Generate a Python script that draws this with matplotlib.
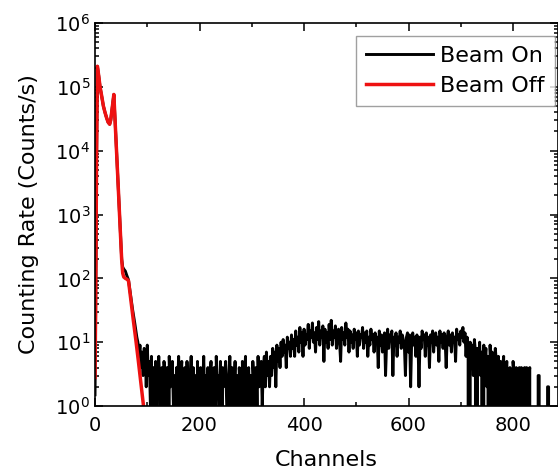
import matplotlib
matplotlib.use("Agg")
import matplotlib.pyplot as plt
from matplotlib.ticker import MultipleLocator, LogLocator, NullFormatter

# ---- data ----
# Beam Off (red) spectrum
ch_off = [0, 1, 2, 3, 4.5, 7, 9.6, 13, 16, 19, 22, 25, 28, 30, 32.5, 34.5, 36,
          40, 44, 48, 51, 53, 55, 58, 61, 64, 68, 73, 78, 83, 88, 92.5, 96]
rate_off = [2.8, 25, 400, 1e4, 2.1e5, 1.5e5, 1e5, 7e4, 5e4, 4e4, 3.3e4, 2.8e4, 2.6e4,
            3e4, 4.4e4, 6e4, 7.6e4, 1.55e4, 3.2e3, 640, 195, 120, 105, 100, 97, 92,
            50, 23, 11, 5, 2.2, 1.05, 0.6]

# Beam On (black) spectrum: low-channel part
ch_on_head = [0, 1, 2, 3, 4.5, 7, 9.6, 13, 16, 19, 22, 25, 28, 30, 32.5, 34.5, 36,
              40, 44, 48, 51, 53, 55, 58, 61, 64, 68, 72, 76, 80, 82, 84, 86, 88, 90, 92, 94]
rate_on_head = [1.5, 20, 300, 8e3, 2.1e5, 1.5e5, 1e5, 7e4, 5e4, 4e4, 3.3e4, 2.8e4, 2.6e4,
                3e4, 4.4e4, 6e4, 7.6e4, 1.55e4, 3.2e3, 640, 200, 150, 140, 130, 110, 95,
                55, 32, 20, 12, 10, 6, 9, 4, 7, 3, 8]

# Beam On (black) spectrum: channels 96..880, every 2 channels (one row = 40 channels)
rate_on_tail = [
    7, 2, 9, 3, 5, 1, 6, 0, 4, 2, 5, 1, 3, 6, 2, 0, 4, 1, 5, 3,
    1, 4, 0, 6, 2, 3, 5, 1, 3, 0, 4, 2, 6, 1, 3, 5, 0, 2, 4, 1,
    5, 2, 0, 3, 6, 1, 4, 2, 3, 0, 5, 1, 3, 4, 0, 2, 6, 1, 3, 2,
    4, 0, 3, 5, 1, 2, 4, 0, 6, 2, 3, 1, 5, 0, 4, 2, 3, 5, 1, 0,
    3, 6, 1, 4, 0, 2, 5, 1, 3, 0, 4, 2, 0, 5, 1, 3, 6, 0, 2, 4,
    1, 3, 0, 5, 2, 0, 4, 1, 6, 2, 3, 5, 1, 4, 6, 2, 7, 3, 5, 2,
    6, 3, 8, 4, 7, 2, 9, 5, 8, 4, 10, 6, 11, 7, 9, 4, 12, 8, 10, 6,
    13, 8, 11, 6, 15, 9, 12, 7, 17, 10, 14, 6, 16, 9, 13, 11, 19, 8, 15, 12,
    20, 10, 14, 7, 17, 11, 21, 9, 15, 12, 18, 5, 16, 10, 14, 8, 19, 11, 22, 9,
    15, 12, 18, 8, 13, 16, 10, 5, 17, 11, 14, 9, 20, 12, 16, 7, 15, 10, 13, 8,
    16, 11, 14, 6, 15, 9, 13, 12, 17, 8, 14, 10, 15, 6, 12, 9, 16, 11, 13, 7,
    14, 10, 12, 4, 15, 9, 13, 7, 11, 14, 3, 10, 16, 8, 13, 11, 15, 3, 12, 9,
    14, 6, 12, 10, 15, 8, 13, 11, 9, 3, 12, 14, 7, 13, 2, 11, 14, 9, 12, 6,
    13, 10, 2, 12, 8, 15, 11, 13, 6, 14, 9, 12, 4, 13, 10, 15, 7, 12, 14, 9,
    12, 5, 15, 10, 13, 8, 14, 11, 4, 12, 15, 9, 13, 7, 14, 10, 12, 5, 16, 11,
    13, 9, 15, 12, 17, 10, 14, 6, 12, 8, 0, 10, 5, 9, 3, 11, 7, 0, 8, 4,
    10, 3, 7, 0, 9, 5, 8, 2, 6, 0, 9, 4, 7, 0, 3, 8, 5, 0, 6, 2,
    5, 0, 4, 6, 0, 3, 5, 1, 0, 4, 2, 0, 5, 3, 0, 4, 0, 2, 4, 0,
    4, 0, 3, 4, 0, 4, 0, 3, 4, 0, 0, 0, 0, 0, 0, 0, 3, 3, 0, 0,
    0, 0, 0, 0, 0, 2, 2, 0, 0, 0, 0, 0, 0,
]
ch_on_tail = list(range(96, 96 + 2 * len(rate_on_tail), 2))

ch_on = ch_on_head + ch_on_tail
rate_on = rate_on_head + rate_on_tail

# ---- plot ----
plt.rcParams['font.family'] = ['DejaVu Sans']
plt.rcParams['mathtext.fontset'] = 'dejavusans'

fig = plt.figure(figsize=(5.58, 4.73), dpi=100)
ax = fig.add_axes([0.1703, 0.1416, 0.8297, 0.8097])

ax.plot(ch_on, rate_on, color='black', lw=2.1, label='Beam On')
ax.plot(ch_off, rate_off, color='#ee1111', lw=2.5, label='Beam Off')

ax.set_yscale('log', nonpositive='clip')
ax.set_xlim(0, 886)
ax.set_ylim(1, 1e6)

ax.xaxis.set_major_locator(MultipleLocator(200))
ax.xaxis.set_minor_locator(MultipleLocator(100))
ax.yaxis.set_major_locator(LogLocator(base=10, numticks=10))
ax.yaxis.set_minor_locator(LogLocator(base=10, subs=range(2, 10), numticks=20))
ax.yaxis.set_minor_formatter(NullFormatter())

ax.tick_params(which='both', direction='in', top=True, right=True, labelsize=14, width=1.1)
ax.tick_params(which='major', length=6)
ax.tick_params(which='minor', length=3)
ax.tick_params(axis='x', pad=7)
for s in ax.spines.values():
    s.set_linewidth(1.2)

ax.set_xlabel('Channels', fontsize=16, labelpad=11)
ax.set_ylabel('Counting Rate (Counts/s)', fontsize=16, labelpad=12)

leg = ax.legend(loc='upper right', bbox_to_anchor=(0.9935, 0.966), fontsize=16,
                handlelength=3.0, handletextpad=0.35, fancybox=False, frameon=True,
                borderpad=0.45, labelspacing=0.45, borderaxespad=0)
leg.get_frame().set_edgecolor('#888888')
leg.get_frame().set_linewidth(1.0)

fig.savefig('out.png', dpi=100)
